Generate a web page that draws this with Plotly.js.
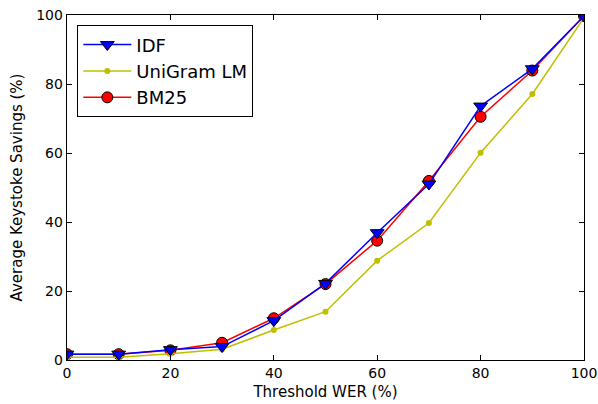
<!DOCTYPE html>
<html><head><meta charset="utf-8">
<script src="https://cdn.plot.ly/plotly-3.0.1.min.js"></script>
<style>body{margin:0;padding:0;background:#fff}#chart{width:598px;height:404px}</style>
</head><body><div id="chart"></div>
<script>
const thresholds = [0, 10, 20, 30, 40, 50, 60, 70, 80, 90, 100];
const idf = [1.7, 1.7, 3.0, 3.9, 11.4, 22.2, 36.9, 51.0, 73.6, 84.4, 99.7];
const unigram = [0.8, 0.8, 1.8, 3.1, 8.7, 14.0, 28.8, 39.7, 60.1, 77.1, 99.2];
const bm25 = [1.7, 1.7, 2.8, 5.0, 12.1, 22.0, 34.6, 51.9, 70.5, 83.9, 99.7];
const xTicks = [0, 20, 40, 60, 80, 100];
const yTicks = [0, 20, 40, 60, 80, 100];

const traces = [
  {x: thresholds, y: bm25, name: 'BM25', mode: 'lines+markers', legendrank: 3,
   line: {color: '#ff0000', width: 1.5},
   marker: {symbol: 'circle', size: 11, color: '#ff0000', line: {color: '#000', width: 1}}},
  {x: thresholds, y: unigram, name: 'UniGram LM', mode: 'lines+markers', legendrank: 2,
   line: {color: '#bfbf00', width: 1.5},
   marker: {symbol: 'circle', size: 6, color: '#bfbf00', line: {width: 0}}},
  {x: thresholds, y: idf, name: 'IDF', mode: 'lines+markers', legendrank: 1,
   line: {color: '#0000ff', width: 1.5},
   marker: {symbol: 'triangle-down', size: 12, color: '#0000ff', line: {color: '#000', width: 1}}}
];

const axisCommon = {
  showgrid: false, zeroline: false, showline: true, linecolor: '#000', linewidth: 1.3,
  mirror: 'allticks', ticks: 'inside', ticklen: 5, tickcolor: '#000', tickwidth: 1,
  tickfont: {family: 'DejaVu Sans', size: 14, color: '#000'}
};

const layout = {
  width: 598, height: 404,
  margin: {l: 67, r: 14, t: 15, b: 44},
  paper_bgcolor: '#fff', plot_bgcolor: '#fff',
  font: {family: 'DejaVu Sans', color: '#000'},
  showlegend: true,
  legend: {x: 0.02, y: 0.97, xanchor: 'left', yanchor: 'top',
    bordercolor: '#000', borderwidth: 1, bgcolor: '#fff', itemwidth: 48,
    font: {family: 'DejaVu Sans', size: 18, color: '#000'}},
  xaxis: Object.assign({}, axisCommon, {range: [0, 100], tickvals: xTicks,
    title: {text: 'Threshold WER (%)', font: {family: 'DejaVu Sans', size: 15}, standoff: 6}}),
  yaxis: Object.assign({}, axisCommon, {range: [0, 100], tickvals: yTicks,
    title: {text: 'Average Keystoke Savings (%)', font: {family: 'DejaVu Sans', size: 15}, standoff: 10}})
};

Plotly.newPlot('chart', traces, layout, {displayModeBar: false, staticPlot: true});
</script></body></html>
